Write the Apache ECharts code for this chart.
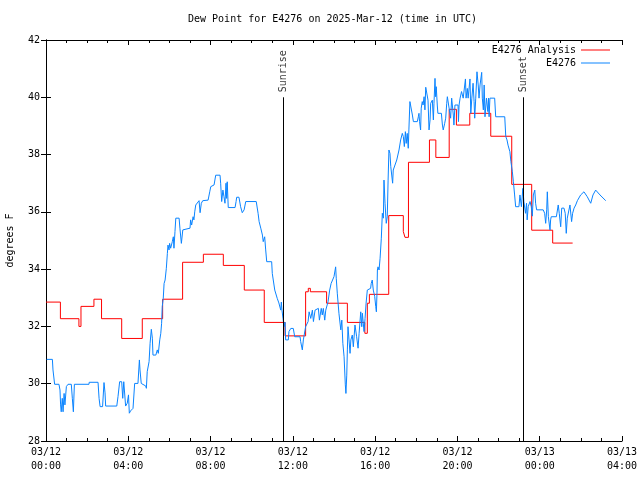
<!DOCTYPE html>
<html>
<head>
<meta charset="utf-8">
<script src="https://cdn.jsdelivr.net/npm/echarts@6/dist/echarts.min.js"></script>
<style>html,body{margin:0;padding:0;background:#fff}#c{width:640px;height:480px}</style>
</head>
<body>
<div id="c"></div>
<script>
// x values: hours since 2025-03-12 00:00 UTC
const xTickLabels = ['03/12\n00:00','03/12\n04:00','03/12\n08:00','03/12\n12:00','03/12\n16:00','03/12\n20:00','03/13\n00:00','03/13\n04:00'];
const seriesNames = ['E4276 Analysis', 'E4276'];
const seriesColors = ['#ff0000', '#0a84ff'];
const eventNames = ['Sunrise', 'Sunset'];
const eventHours = [11.52, 23.19];

const analysisHours = [0, 0.7, 1.6, 1.7, 2.33, 2.7, 3.68, 4.68, 5.67, 6.64, 7.65, 8.62, 9.64, 10.61, 11.62, 12.62, 12.75, 12.85, 13.64, 14.65, 15.5, 15.62, 15.72, 16.66, 17.37, 17.45, 17.62, 18.64, 18.95, 19.6, 19.95, 20.6, 21.62, 22.64, 23.61, 24.63, 25.6];
const analysisDew = [32.85, 32.27, 32.0, 32.7, 32.95, 32.27, 31.58, 32.27, 32.95, 34.24, 34.52, 34.13, 33.27, 32.14, 31.67, 33.21, 33.33, 33.21, 32.81, 32.14, 31.76, 32.81, 33.12, 35.87, 35.31, 35.11, 37.73, 38.51, 37.9, 39.58, 39.03, 39.44, 38.64, 36.96, 35.36, 34.91, 34.91];

const obsHours = [0.03,0.31,0.34,0.42,0.63,0.68,0.71,0.74,0.79,0.83,0.88,0.92,0.99,1.07,1.23,1.28,1.33,1.38,2.09,2.10,2.53,2.58,2.63,2.75,2.82,2.87,2.90,3.44,3.50,3.58,3.68,3.73,3.78,3.87,3.95,4.01,4.05,4.11,4.23,4.31,4.47,4.54,4.57,4.63,4.85,4.88,4.92,5.01,5.06,5.12,5.17,5.20,5.34,5.41,5.46,5.53,5.58,5.62,5.65,5.70,5.74,5.79,5.85,5.90,5.93,5.98,6.01,6.06,6.14,6.19,6.22,6.27,6.31,6.47,6.51,6.58,6.65,7.00,7.03,7.08,7.15,7.19,7.23,7.28,7.44,7.49,7.55,7.62,7.88,7.96,8.01,8.17,8.25,8.46,8.49,8.54,8.60,8.65,8.70,8.75,8.78,8.81,8.86,9.19,9.24,9.27,9.38,9.46,9.54,9.63,9.71,10.22,10.31,10.36,10.44,10.52,10.56,10.63,10.68,10.73,10.97,11.00,11.08,11.12,11.24,11.32,11.41,11.44,11.47,11.52,11.57,11.62,11.65,11.78,11.81,11.90,12.02,12.09,12.35,12.38,12.46,12.51,12.62,12.74,12.79,12.87,12.95,13.00,13.08,13.24,13.29,13.38,13.43,13.48,13.55,13.60,13.66,13.71,13.79,13.86,13.94,14.00,14.08,14.11,14.16,14.24,14.33,14.38,14.43,14.49,14.55,14.58,14.62,14.65,14.68,14.73,14.78,14.82,14.89,14.94,15.02,15.10,15.17,15.22,15.30,15.35,15.38,15.46,15.51,15.56,15.62,15.78,15.81,15.86,15.91,15.98,16.03,16.06,16.09,16.11,16.14,16.19,16.24,16.30,16.35,16.40,16.43,16.48,16.54,16.59,16.63,16.67,16.72,16.76,16.85,16.88,16.97,17.05,17.16,17.24,17.32,17.37,17.42,17.47,17.51,17.56,17.61,17.64,17.69,17.74,17.81,17.86,18.05,18.10,18.13,18.16,18.21,18.24,18.29,18.33,18.38,18.42,18.46,18.54,18.57,18.62,18.67,18.70,18.78,18.83,18.86,18.91,18.94,18.97,19.02,19.05,19.22,19.27,19.31,19.38,19.43,19.48,19.51,19.54,19.60,19.67,19.72,19.80,19.83,19.88,20.03,20.05,20.08,20.13,20.20,20.28,20.36,20.39,20.42,20.48,20.52,20.57,20.61,20.65,20.70,20.76,20.81,20.84,20.89,20.95,21.01,21.05,21.10,21.18,21.21,21.26,21.30,21.34,21.41,21.48,21.51,21.54,21.58,21.81,21.86,22.30,22.35,22.41,22.46,22.55,22.60,22.67,22.72,22.78,22.83,22.99,23.04,23.11,23.18,23.23,23.31,23.36,23.39,23.44,23.53,23.59,23.64,23.69,23.76,23.80,23.85,24.17,24.24,24.29,24.34,24.37,24.42,24.50,24.53,24.56,24.81,24.90,24.95,25.02,25.07,25.18,25.24,25.29,25.34,25.42,25.47,25.55,25.60,25.67,25.75,25.83,25.99,26.15,26.31,26.48,26.59,26.72,26.93,27.21];
const obsDew = [30.85,30.85,30.48,29.98,29.98,29.78,29.26,29.02,29.49,29.02,29.66,29.26,29.9,29.98,29.98,29.49,29.02,29.98,29.98,30.05,30.05,29.49,29.2,29.2,30.04,29.68,29.22,29.22,29.55,30.07,30.07,29.49,30.07,29.22,29.32,29.61,28.97,29.05,29.14,30.01,30.01,30.83,30.48,30.01,29.92,29.84,30.42,30.77,31.41,31.9,31.59,31.0,31.0,31.18,31.06,31.53,31.76,32.11,32.69,32.98,33.5,33.62,34.03,34.55,34.84,34.67,34.9,34.73,34.96,35.13,34.73,35.31,35.78,35.78,35.43,34.9,35.37,35.43,35.72,35.54,35.83,35.72,36.0,36.24,36.39,35.97,36.3,36.39,36.41,36.7,36.88,36.94,37.28,37.28,37.0,36.36,36.76,36.53,36.3,37.0,36.47,37.05,36.15,36.15,36.36,36.51,36.51,36.18,35.97,36.07,36.36,36.36,35.95,35.66,35.43,35.19,34.96,35.13,34.67,34.26,34.26,33.85,33.85,33.27,32.98,32.82,32.57,32.85,32.57,32.29,31.99,32.15,31.53,31.53,31.82,31.93,31.93,31.64,31.64,31.47,31.18,31.53,31.99,32.17,32.51,32.28,32.57,32.17,32.57,32.63,32.22,32.63,32.4,32.63,32.22,32.57,32.51,32.86,33.27,33.5,33.56,33.74,34.08,33.68,33.16,32.46,31.88,32.22,31.41,30.94,29.96,29.66,30.3,31.18,31.99,31.53,31.06,31.53,31.7,31.29,32.05,31.64,31.24,31.76,32.51,31.99,32.46,31.82,32.28,32.81,33.27,33.33,33.5,33.62,33.27,33.04,32.69,32.51,33.17,33.97,34.08,33.97,34.38,35.08,35.95,35.78,37.11,36.3,35.6,35.83,37.11,38.16,38.04,37.58,37.0,37.46,37.52,37.81,38.16,38.51,38.74,38.63,38.28,38.8,38.39,38.74,38.22,38.86,39.85,39.79,39.38,39.15,39.15,39.32,39.44,39.15,38.86,39.62,39.85,39.73,40.02,39.56,40.35,40.37,39.9,38.86,39.21,39.79,39.9,39.21,39.79,40.66,40.02,40.37,39.73,39.44,39.44,39.03,38.86,39.09,39.27,39.79,40.02,40.08,39.97,39.27,39.97,39.38,39.03,39.73,39.73,39.15,39.73,39.97,40.2,39.97,39.97,40.64,39.97,40.31,39.97,39.97,40.64,39.44,39.97,40.49,39.85,39.27,39.97,40.89,40.43,39.97,40.43,40.87,39.97,39.56,40.43,39.32,39.97,39.5,39.97,39.32,39.97,39.97,39.32,39.32,38.63,38.51,38.33,38.1,37.75,37.4,37.05,36.59,36.18,36.18,36.59,36.18,36.82,36.36,35.95,36.3,35.72,36.18,36.36,36.18,35.85,36.59,36.76,36.3,36.07,36.07,35.95,35.6,36.07,36.7,35.83,35.37,35.72,35.83,35.83,36.24,35.95,35.48,36.13,36.13,35.95,35.25,35.78,35.83,36.24,35.66,35.95,36.13,36.24,36.39,36.59,36.7,36.53,36.3,36.59,36.76,36.59,36.39];

const FONT = 'DejaVu Sans Mono';
const txt = {fontFamily: FONT, fontSize: 10, color: '#000'};

const chart = echarts.init(document.getElementById('c'), null, {renderer: 'canvas'});
const axisCommon = {
  axisLine: {show: true, lineStyle: {color: '#000', width: 1}},
  splitLine: {show: false}
};
const legendFor = (i, top) => ({
  data: [{name: seriesNames[i], icon: 'rect', itemStyle: {color: seriesColors[i], borderWidth: 0}}],
  right: 30, top: top, orient: 'vertical', align: 'right', padding: 0,
  itemWidth: 29, itemHeight: 1, textStyle: txt
});
chart.setOption({
  animation: false,
  backgroundColor: '#fff',
  title: {
    text: 'Dew Point for E4276 on 2025-Mar-12 (time in UTC)',
    left: 188, top: 14, padding: 0,
    textStyle: {fontFamily: FONT, fontSize: 10, fontWeight: 'normal', color: '#000'}
  },
  legend: [legendFor(0, 45), legendFor(1, 58)],
  grid: {left: 46, right: 18, top: 40, bottom: 39, outerBoundsMode: 'none', containLabel: false},
  xAxis: [
    Object.assign({}, axisCommon, {
      type: 'value', min: 0, max: 28, interval: 4, position: 'bottom',
      axisTick: {show: true, inside: true, length: 5, lineStyle: {color: '#000'}},
      minorTick: {show: true, splitNumber: 4, length: 3, lineStyle: {color: '#000'}},
      minorSplitLine: {show: false},
      axisLabel: Object.assign({}, txt, {margin: 4, lineHeight: 14,
        formatter: v => xTickLabels[Math.round(v / 4)]})
    }),
    Object.assign({}, axisCommon, {
      type: 'value', min: 0, max: 28, interval: 4, position: 'top',
      axisTick: {show: true, inside: true, length: 5, lineStyle: {color: '#000'}},
      minorTick: {show: true, splitNumber: 4, length: 3, lineStyle: {color: '#000'}},
      axisLabel: {show: false}
    })
  ],
  yAxis: [
    Object.assign({}, axisCommon, {
      type: 'value', min: 28, max: 42, interval: 2, position: 'left',
      name: 'degrees F', nameLocation: 'middle', nameGap: 31,
      nameTextStyle: txt,
      axisTick: {show: true, inside: true, length: 5, lineStyle: {color: '#000'}},
      axisLabel: Object.assign({}, txt, {margin: 6})
    }),
    Object.assign({}, axisCommon, {
      type: 'value', min: 28, max: 42, interval: 2, position: 'right',
      axisTick: {show: true, inside: true, length: 5, lineStyle: {color: '#000'}},
      axisLabel: {show: false}
    })
  ],
  series: [
    {
      name: seriesNames[0], type: 'line', step: 'end', symbol: 'none',
      lineStyle: {color: seriesColors[0], width: 1}, itemStyle: {color: seriesColors[0]},
      data: analysisHours.map((h, i) => [h, analysisDew[i]])
    },
    {
      name: seriesNames[1], type: 'line', symbol: 'none',
      lineStyle: {color: seriesColors[1], width: 1}, itemStyle: {color: seriesColors[1]},
      data: obsHours.map((h, i) => [h, obsDew[i]])
    },
    {
      name: 'events', type: 'scatter', symbolSize: 0, silent: true,
      data: eventHours.map((h, i) => ({value: [h, 40], name: eventNames[i]})),
      label: {show: true, formatter: p => p.name, position: 'top', distance: 5,
        rotate: 90, align: 'left', verticalAlign: 'middle',
        fontFamily: FONT, fontSize: 10, color: '#000'},
      markLine: {
        silent: true, symbol: 'none', animation: false,
        label: {show: false},
        lineStyle: {color: '#000', width: 1, type: 'solid'},
        data: eventHours.map(h => [{coord: [h, 28]}, {coord: [h, 40]}])
      }
    }
  ]
});
</script>
</body>
</html>
